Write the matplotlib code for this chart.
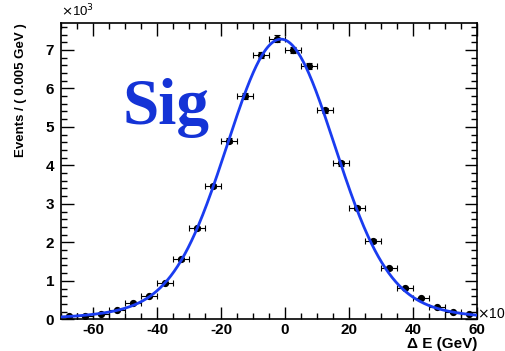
import numpy as np
import matplotlib
matplotlib.use("Agg")
import matplotlib.pyplot as plt
from matplotlib.ticker import MultipleLocator

# Bin centres of Delta E (units of 1e-3 GeV) and event counts (units of 1e3)
delta_e = [-67.5, -62.5, -57.5, -52.5, -47.5, -42.5, -37.5, -32.5, -27.5, -22.5,
           -17.5, -12.5, -7.5, -2.5, 2.5, 7.5, 12.5, 17.5, 22.5, 27.5,
           32.5, 37.5, 42.5, 47.5, 52.5, 57.5]
events = [0.08, 0.09, 0.15, 0.25, 0.42, 0.60, 0.95, 1.56, 2.36, 3.47,
          4.64, 5.80, 6.87, 7.29, 7.00, 6.59, 5.43, 4.06, 2.89, 2.04,
          1.33, 0.81, 0.55, 0.32, 0.18, 0.14]
bin_half_width = 2.5

# Fitted signal shape: core + wide Gaussian
fit_mean = -1.3
fit_core_sigma = 16.5
fit_core_amp = 6.58
fit_tail_sigma = 31.0
fit_tail_amp = 0.70

x = np.array(delta_e)
y = np.array(events)
yerr = np.sqrt(y * 1000.0) / 1000.0

xs = np.linspace(-70, 60, 600)
curve = (fit_core_amp * np.exp(-0.5 * ((xs - fit_mean) / fit_core_sigma) ** 2)
         + fit_tail_amp * np.exp(-0.5 * ((xs - fit_mean) / fit_tail_sigma) ** 2))

plt.rcParams['font.family'] = ['Liberation Sans', 'DejaVu Sans']
plt.rcParams['axes.unicode_minus'] = False

fig = plt.figure(figsize=(5.06, 3.51), dpi=100)
ax = fig.add_axes([0.1206, 0.0903, 0.8221, 0.8442])

ax.errorbar(x, y, xerr=bin_half_width, yerr=yerr, fmt='o', color='black',
            ms=4.2, elinewidth=0.8, capsize=2.2, capthick=0.8, zorder=3)
ax.plot(xs, curve, color='#1a3cf0', lw=2.0, zorder=4)

ax.set_xlim(-70, 60)
ax.set_ylim(0, 7.7)

ax.xaxis.set_major_locator(MultipleLocator(20))
ax.xaxis.set_minor_locator(MultipleLocator(5))
ax.yaxis.set_major_locator(MultipleLocator(1))
ax.yaxis.set_minor_locator(MultipleLocator(0.2))
ax.tick_params(which='both', direction='in', top=True, right=True, width=1.0,
               labelsize=11)
ax.tick_params(which='major', length=9)
ax.tick_params(which='minor', length=4.5)
for lab in ax.get_xticklabels() + ax.get_yticklabels():
    lab.set_fontweight('bold')
ax.tick_params(axis='x', pad=3)
ax.tick_params(axis='y', pad=5)
for sp in ax.spines.values():
    sp.set_linewidth(1.2)

fig.text(21 / 506, 1 - 23 / 351, 'Events / ( 0.005 GeV )', rotation=90,
         fontsize=9.5, fontweight='bold', ha='center', va='top')
fig.text(477 / 506, 1 - 344 / 351, '\u0394 E (GeV)', fontsize=11,
         fontweight='bold', ha='right', va='center')

fig.text(0.1206, 0.945, r'$\times$10$^{3}$', fontsize=9.5, ha='left', va='bottom')
fig.text(0.943, 0.082, r'$\times$10$^{-3}$', fontsize=10, ha='left', va='bottom')

ax.text(0.148, 0.659, 'Sig', transform=ax.transAxes, fontsize=47,
        fontweight='bold', family='Liberation Serif', color='#1433d6',
        ha='left', va='baseline')

fig.savefig('out.png', dpi=100)
